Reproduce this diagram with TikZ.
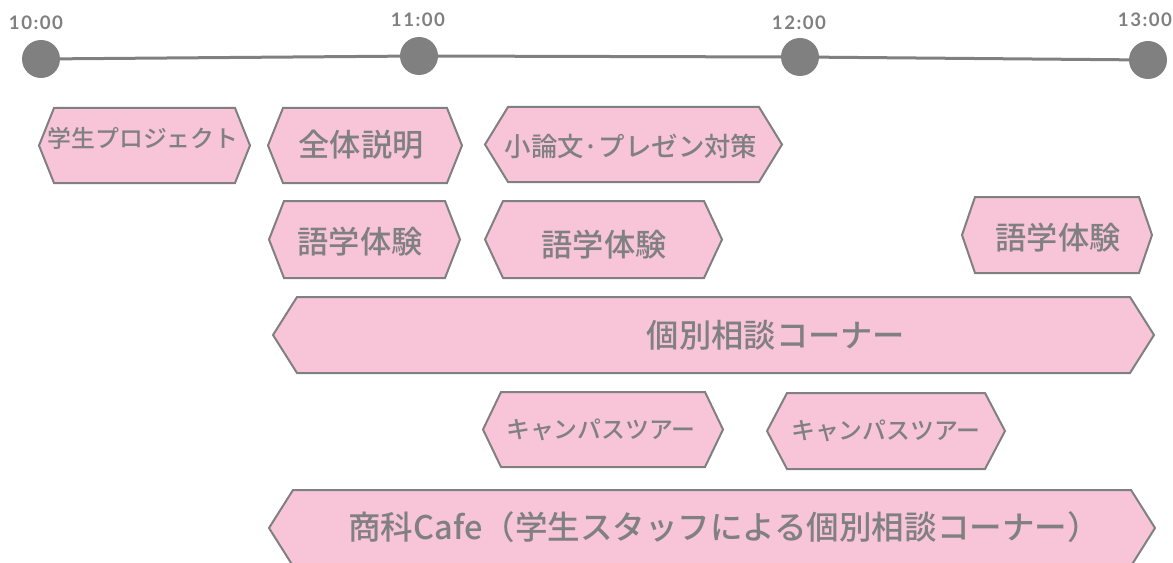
\documentclass[tikz,border=0pt]{standalone}
\usepackage{fontspec}
\setmainfont{Noto Sans CJK JP Medium}
\newfontfamily\timefont[LetterSpace=8]{Lato}
\definecolor{hexfill}{RGB}{247,196,216}
\definecolor{hexline}{RGB}{128,128,128}
\definecolor{txtgray}{RGB}{128,128,128}
\newcommand{\hexshape}[5]{% xl, xr, ytop, ybot, indent
  \draw[hexbox] (#1,{(#3+#4)/2}) -- ({#1+#5},#3) -- ({#2-#5},#3) -- (#2,{(#3+#4)/2}) -- ({#2-#5},#4) -- ({#1+#5},#4) -- cycle;}
\begin{document}
\begin{tikzpicture}[x=0.75pt,y=-0.75pt,
  hexbox/.style={draw=hexline,fill=hexfill,line width=1.5pt,line join=miter},
  lbl/.style={inner sep=0pt,text=txtgray,anchor=center},
  big/.style={lbl,font=\fontsize{23.4}{28}\selectfont},
  bigger/.style={lbl,font=\fontsize{24.2}{29}\selectfont},
  mid/.style={lbl,font=\fontsize{19.8}{24}\selectfont},
  small/.style={lbl,font=\fontsize{17.9}{21}\selectfont},
  timelbl/.style={inner sep=0pt,text=txtgray,font=\timefont\bfseries\fontsize{14}{16}\selectfont},
  dot/.style={circle,fill=hexline,minimum size=28.5pt,inner sep=0pt},
  tline/.style={draw=hexline,line width=2.25pt}]
\useasboundingbox (0,0) rectangle (1173,563);
% timeline
\coordinate (c10) at (41,59);
\coordinate (c11) at (419,56);
\coordinate (c12) at (800,57);
\coordinate (c13) at (1148,60);
\draw[tline] (c10) -- (c11) -- (c12) -- (c13);
\node[dot] (t10) at (c10) {};
\node[dot] (t11) at (c11) {};
\node[dot] (t12) at (c12) {};
\node[dot] (t13) at (c13) {};
\node[timelbl] (l10) at (36,23) {10:00};
\node[timelbl] (l11) at (418,20) {11:00};
\node[timelbl] (l12) at (799,23) {12:00};
\node[timelbl] (l13) at (1145,20) {13:00};
% row 1
\hexshape{39}{250}{108}{183}{15}
\node[small] (gp) at (143,138) {学生プロジェクト};
\hexshape{268}{462}{108}{183}{15}
\node[big] (zs) at (361,145) {全体説明};
\hexshape{485}{782}{107}{182}{23}
\node[mid] (sr) at (631,146) {小論文·プレゼン対策};
% row 2
\hexshape{269}{460}{201}{278}{15}
\node[big] (g1) at (360,242) {語学体験};
\hexshape{485}{722}{201}{278}{18}
\node[big] (g2) at (604,245) {語学体験};
\hexshape{962}{1152}{197}{273}{13}
\node[big] (g3) at (1058,238) {語学体験};
% row 3
\hexshape{273}{1154}{297}{373}{24}
\node[bigger] (ks) at (776,335) {個別相談コーナー};
% row 4
\hexshape{483}{723}{392}{467}{18}
\node[small] (ct1) at (601,430) {キャンパスツアー};
\hexshape{767}{1005}{393}{469}{20}
\node[small] (ct2) at (886,431) {キャンパスツアー};
% row 5
\hexshape{269}{1155}{490}{566}{24}
\node[lbl,font=\fontsize{24.4}{29}\selectfont] (cafe) at (724,527) {商科Cafe（学生スタッフによる個別相談コーナー）};
\end{tikzpicture}
\end{document}
